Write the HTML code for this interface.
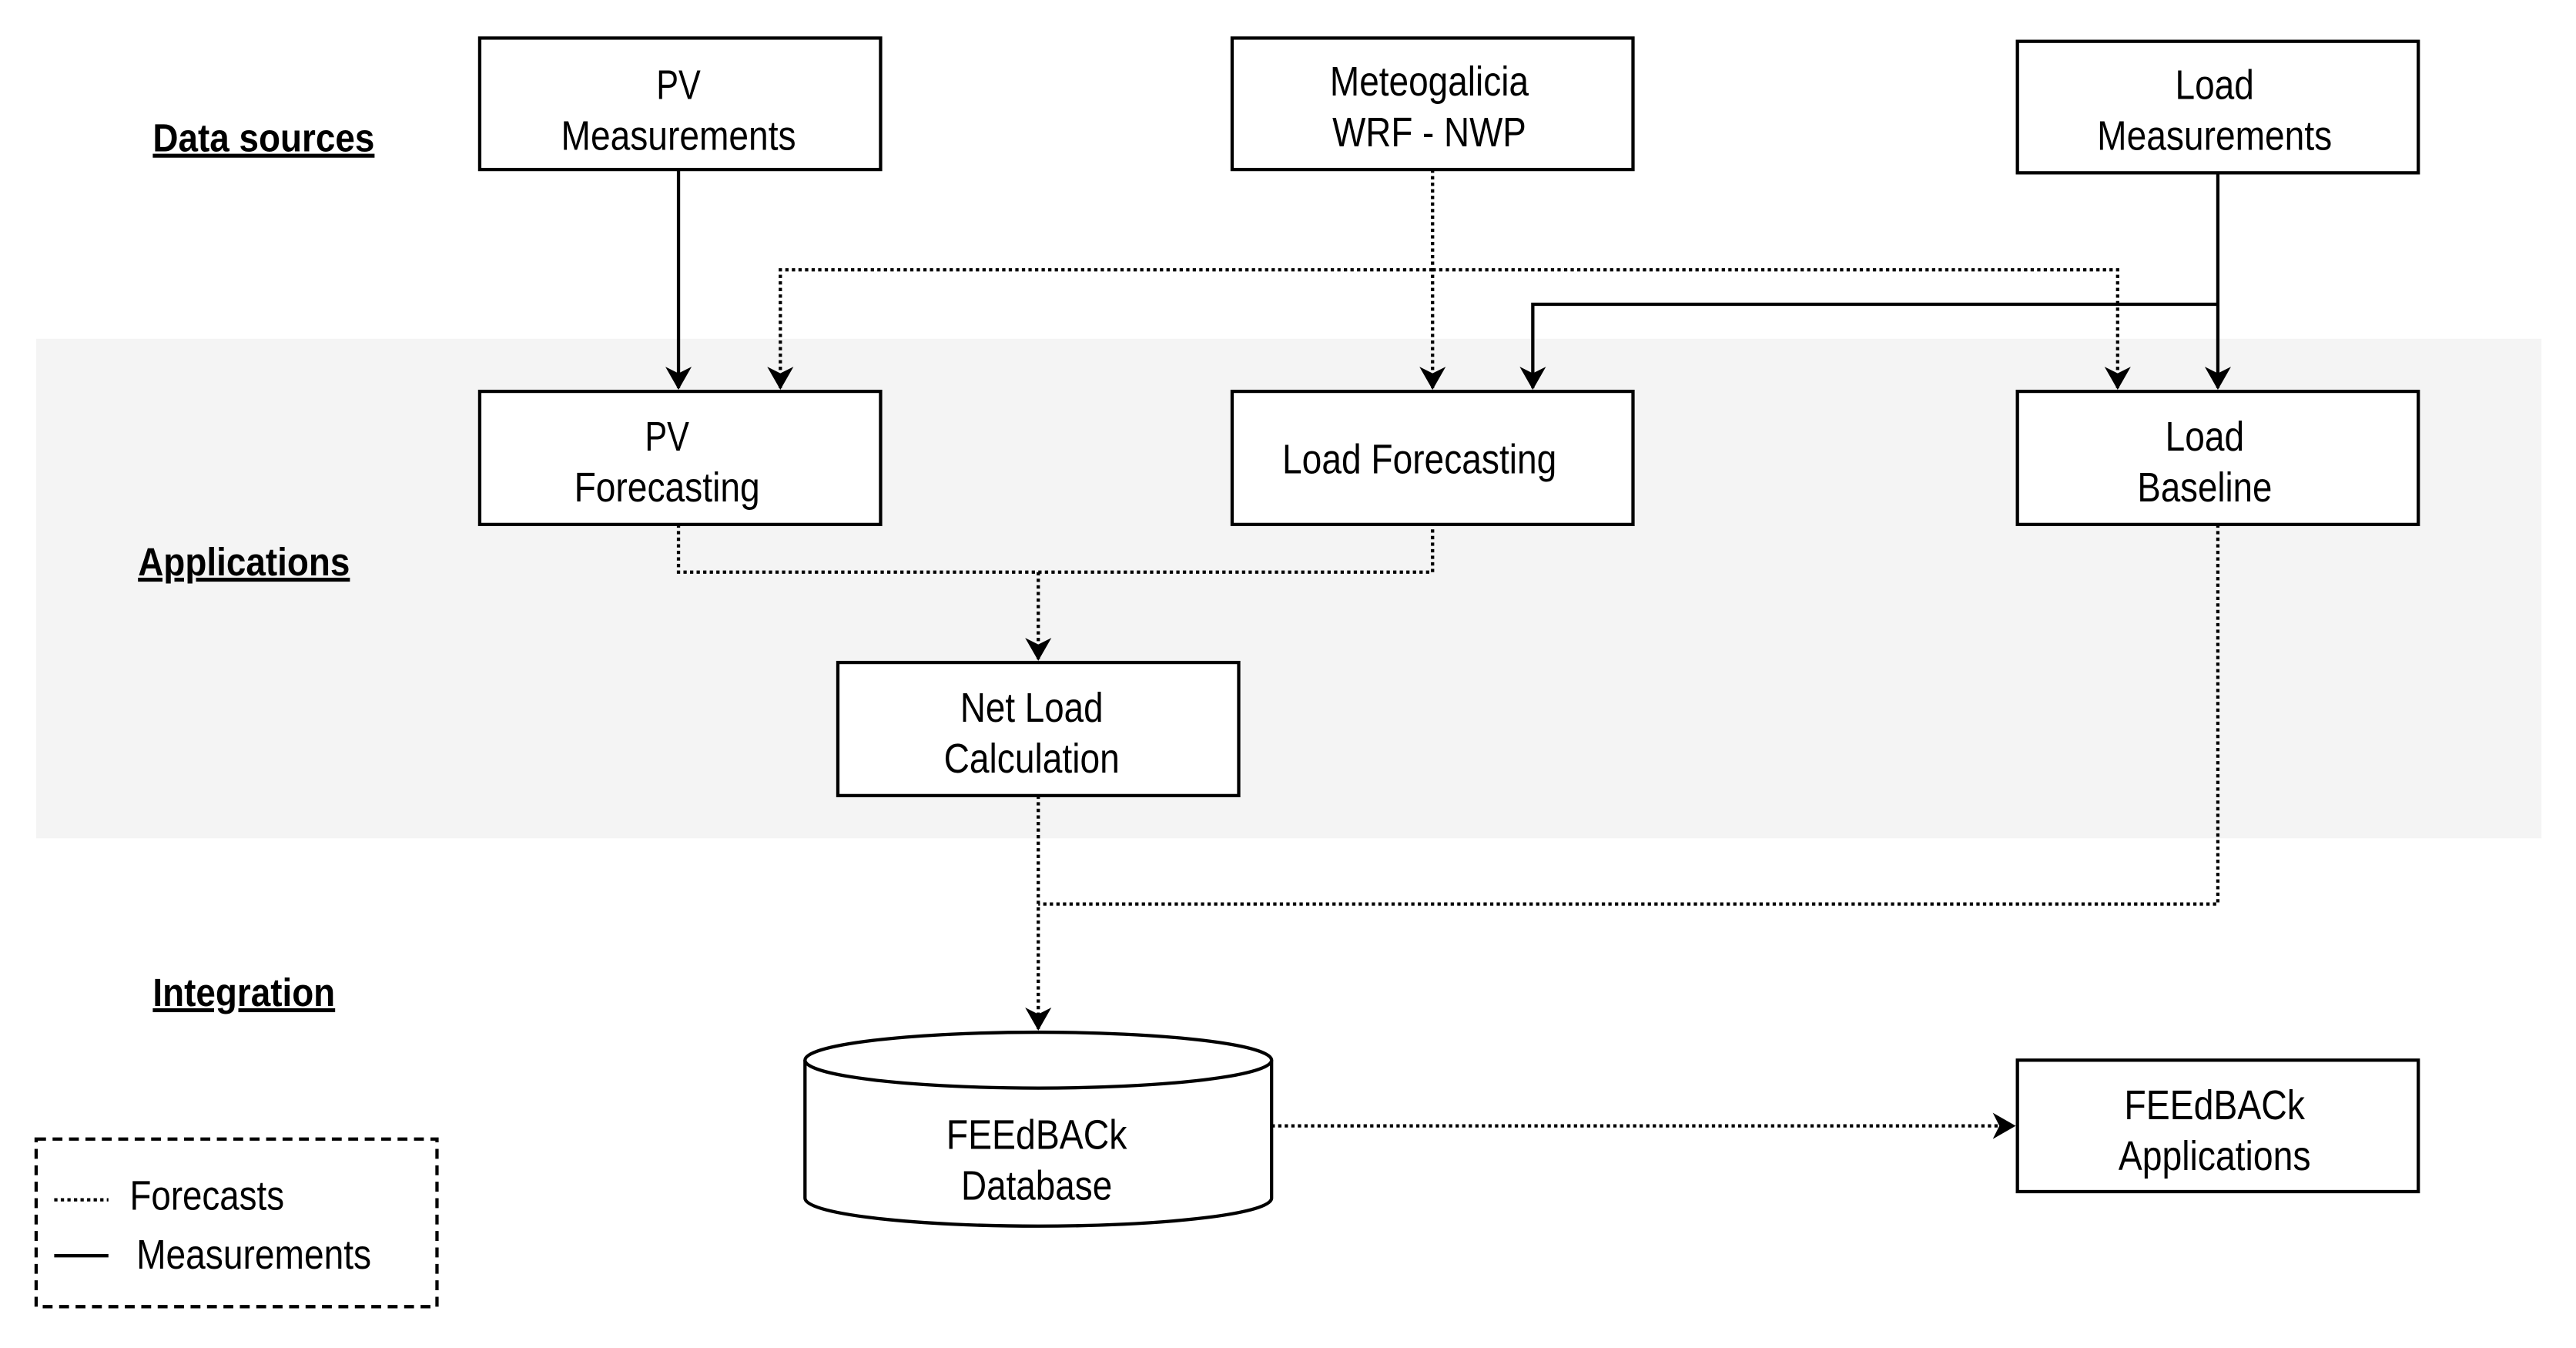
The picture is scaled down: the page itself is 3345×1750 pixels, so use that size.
<!DOCTYPE html>
<html><head><meta charset="utf-8"><style>
html,body{margin:0;padding:0;background:#fff;}
svg{display:block;}
text{font-family:"Liberation Sans Narrow","Liberation Sans",sans-serif;font-size:25px;fill:#000;}
.b{font-weight:bold;text-decoration:underline;font-size:24px;}
</style></head><body>
<svg width="3345" height="1750" viewBox="0 0 1568 820" xmlns="http://www.w3.org/2000/svg">
<defs>
<marker id="a" viewBox="0 0 14 16" refX="13" refY="8" markerWidth="14" markerHeight="16" markerUnits="userSpaceOnUse" orient="auto">
<path d="M0,0 L14,8 L0,16 L4,8 Z" fill="#000"/>
</marker>
</defs>
<rect x="0" y="0" width="1568" height="820" fill="#fff"/>
<rect x="22" y="206" width="1525" height="304" fill="#f4f4f4"/>

<g fill="#fff" stroke="#000" stroke-width="2">
<rect x="292" y="23" width="244" height="80"/>
<rect x="750" y="23" width="244" height="80"/>
<rect x="1228" y="25" width="244" height="80"/>
<rect x="292" y="238" width="244" height="81"/>
<rect x="750" y="238" width="244" height="81"/>
<rect x="1228" y="238" width="244" height="81"/>
<rect x="510" y="403" width="244" height="81"/>
<rect x="1228" y="645" width="244" height="80"/>
<path d="M490,645 L490,729 A142,17 0 0 0 774,729 L774,645"/>
<ellipse cx="632" cy="645" rx="142" ry="17"/>
</g>
<rect x="22" y="693" width="244" height="102" fill="none" stroke="#000" stroke-width="2" stroke-dasharray="6,4"/>

<g fill="none" stroke="#000" stroke-width="2">
<path d="M413,103 L413,236" marker-end="url(#a)"/>
<path d="M1350,105 L1350,236" marker-end="url(#a)"/>
<path d="M1350,185 L933,185 L933,236" marker-end="url(#a)"/>
<line x1="33" y1="764" x2="66" y2="764"/>
</g>
<g fill="none" stroke="#000" stroke-width="2" stroke-dasharray="2,2">
<path d="M872,103 L872,236" marker-end="url(#a)"/>
<path d="M872,164 L475,164 L475,236" marker-end="url(#a)"/>
<path d="M872,164 L1289,164 L1289,236" marker-end="url(#a)"/>
<path d="M413,319 L413,348 L872,348 L872,319"/>
<path d="M632,348 L632,401" marker-end="url(#a)"/>
<path d="M632,484 L632,626" marker-end="url(#a)"/>
<path d="M1350,319 L1350,550 L632,550"/>
<path d="M774,685 L1226,685" marker-end="url(#a)"/>
<line x1="33" y1="730" x2="66" y2="730"/>
</g>

<text class="b" x="93" y="92" textLength="135" lengthAdjust="spacingAndGlyphs">Data sources</text>
<text class="b" x="84" y="350" textLength="129" lengthAdjust="spacingAndGlyphs">Applications</text>
<text class="b" x="93" y="612" textLength="111" lengthAdjust="spacingAndGlyphs">Integration</text>

<g text-anchor="middle">
<text x="413" y="60" textLength="27" lengthAdjust="spacingAndGlyphs">PV</text>
<text x="413" y="91" textLength="143" lengthAdjust="spacingAndGlyphs">Measurements</text>
<text x="870" y="58" textLength="121" lengthAdjust="spacingAndGlyphs">Meteogalicia</text>
<text x="870" y="89" textLength="118" lengthAdjust="spacingAndGlyphs">WRF - NWP</text>
<text x="1348" y="60" textLength="48" lengthAdjust="spacingAndGlyphs">Load</text>
<text x="1348" y="91" textLength="143" lengthAdjust="spacingAndGlyphs">Measurements</text>
<text x="406" y="274" textLength="27" lengthAdjust="spacingAndGlyphs">PV</text>
<text x="406" y="305" textLength="113" lengthAdjust="spacingAndGlyphs">Forecasting</text>
<text x="864" y="288" textLength="167" lengthAdjust="spacingAndGlyphs">Load Forecasting</text>
<text x="1342" y="274" textLength="48" lengthAdjust="spacingAndGlyphs">Load</text>
<text x="1342" y="305" textLength="82" lengthAdjust="spacingAndGlyphs">Baseline</text>
<text x="628" y="439" textLength="87" lengthAdjust="spacingAndGlyphs">Net Load</text>
<text x="628" y="470" textLength="107" lengthAdjust="spacingAndGlyphs">Calculation</text>
<text x="631" y="699" textLength="110" lengthAdjust="spacingAndGlyphs">FEEdBACk</text>
<text x="631" y="730" textLength="92" lengthAdjust="spacingAndGlyphs">Database</text>
<text x="1348" y="681" textLength="110" lengthAdjust="spacingAndGlyphs">FEEdBACk</text>
<text x="1348" y="712" textLength="117" lengthAdjust="spacingAndGlyphs">Applications</text>
</g>
<text x="79" y="736" textLength="94" lengthAdjust="spacingAndGlyphs">Forecasts</text>
<text x="83" y="772" textLength="143" lengthAdjust="spacingAndGlyphs">Measurements</text>
</svg>
</body></html>
